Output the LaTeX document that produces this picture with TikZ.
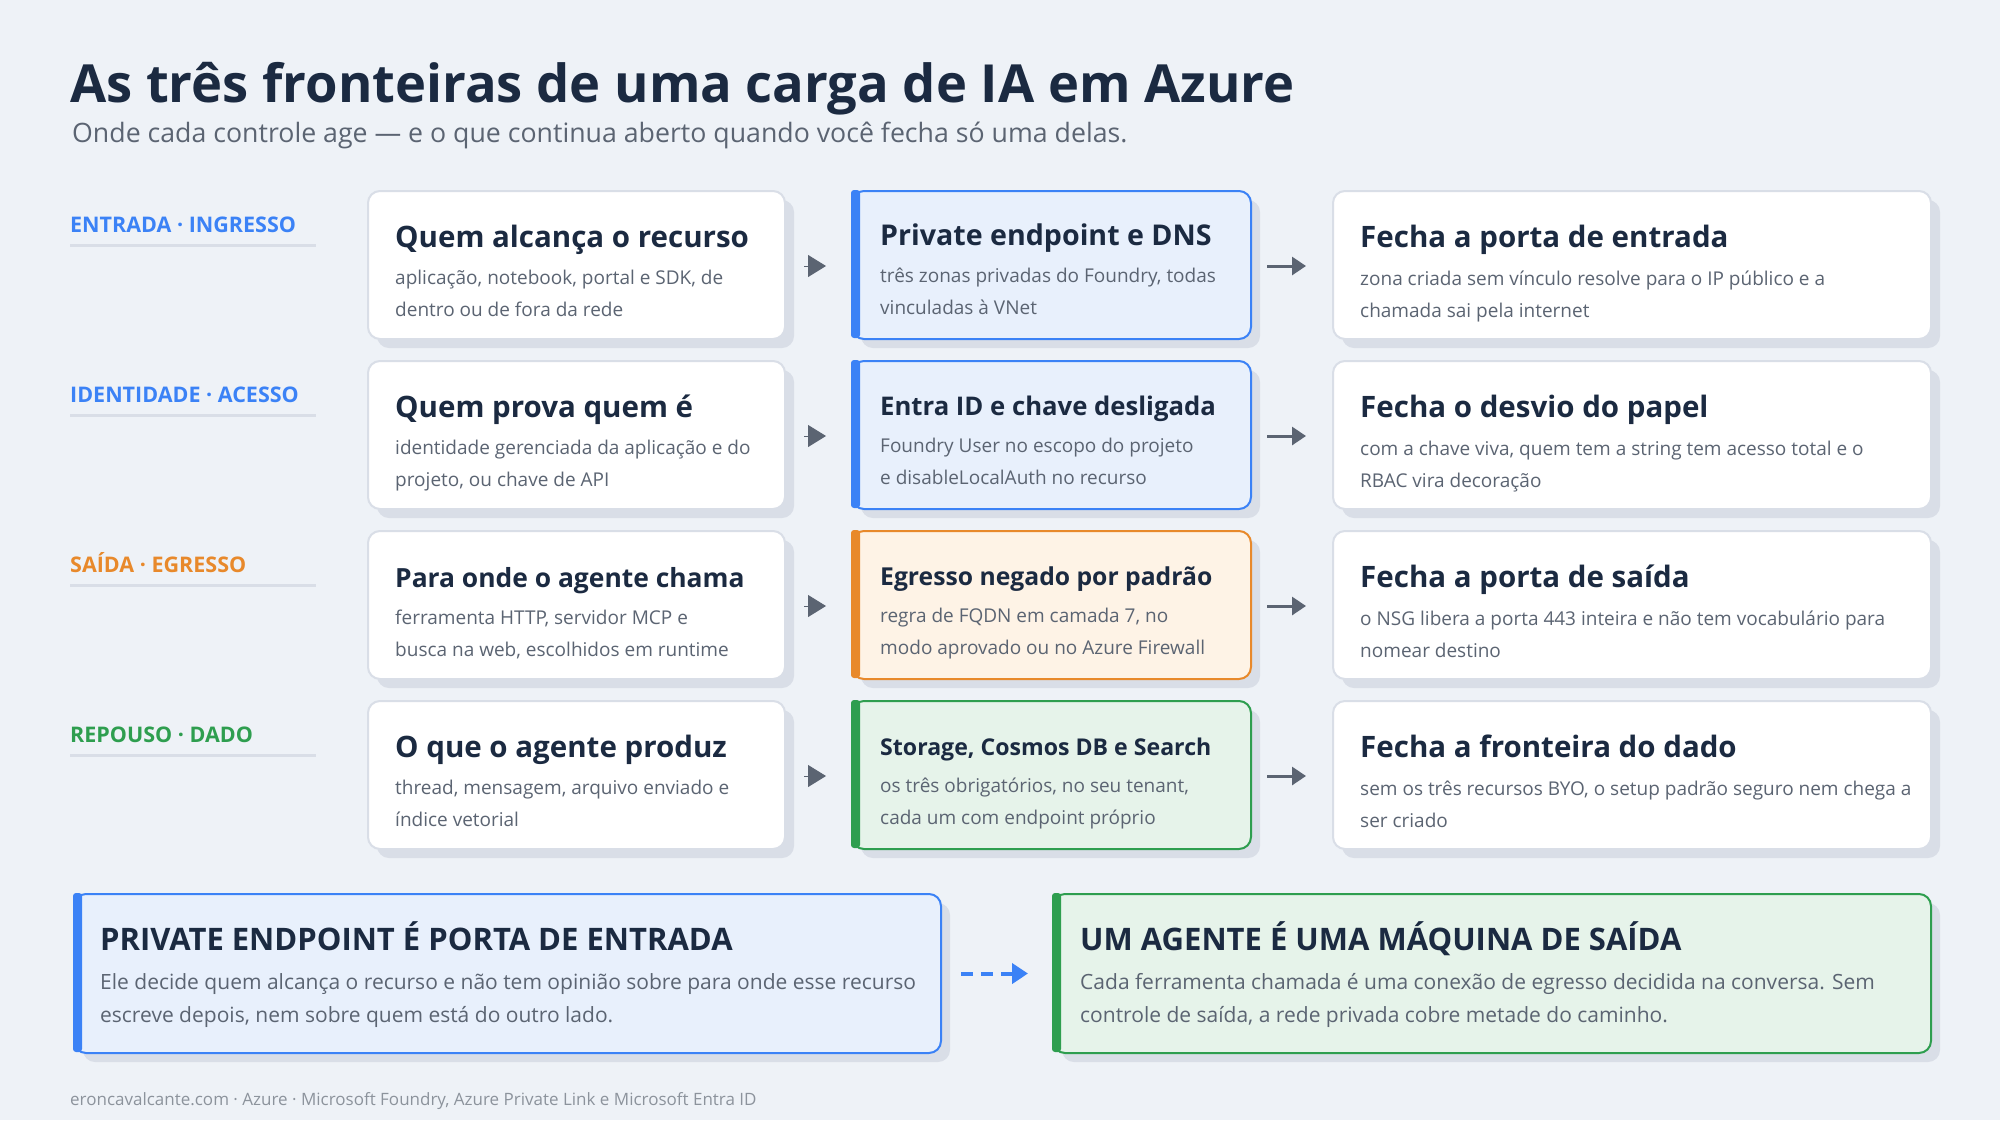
\documentclass[tikz,border=0pt]{standalone}
\usepackage{fontspec}
\setmainfont{Open Sans}
\usetikzlibrary{arrows.meta,positioning}
\definecolor{bgc}{HTML}{EEF2F7}
\definecolor{ink}{HTML}{1B2A41}
\definecolor{muted}{HTML}{5B6472}
\definecolor{castc}{HTML}{D9DEE7}
\definecolor{blu}{HTML}{3B82F6}
\definecolor{blufill}{HTML}{E8F0FC}
\definecolor{org}{HTML}{E8892B}
\definecolor{orgfill}{HTML}{FEF3E6}
\definecolor{grn}{HTML}{2E9E4F}
\definecolor{grnfill}{HTML}{E6F3EA}
\tikzset{
  card/.style={draw=#1,line width=2pt,rounded corners=12pt,inner sep=0pt},
  cast/.style={fill=castc,rounded corners=12pt},
  head/.style={anchor=base west,inner sep=0pt,font=\bfseries\fontsize{#1}{36}\selectfont,text=ink},
  head/.default=29.5,
  desc/.style={anchor=base west,inner sep=0pt,font=\fontsize{19}{32}\selectfont,text=muted,align=left},
  tag/.style={anchor=base west,inner sep=0pt,font=\bfseries\fontsize{21.5}{24}\selectfont,text=#1},
  hop/.style={-{Triangle[length=14pt,width=18pt]},line width=3pt,draw=muted,color=muted},
}
\begin{document}
\begin{tikzpicture}[x=1pt,y=-1pt]
  \fill[bgc] (0,0) rectangle (2000,1120);
  \useasboundingbox (0,0) rectangle (2000,1120);

  % title
  \node[anchor=base west,inner sep=0pt,font=\bfseries\fontsize{52.5}{60}\selectfont,text=ink] (title) at (70,102) {As três fronteiras de uma carga de IA em Azure};
  \node[anchor=base west,inner sep=0pt,font=\fontsize{26.7}{30}\selectfont,text=muted] (sub) at (72,142) {Onde cada controle age — e o que continua aberto quando você fecha só uma delas.};

  % rows
  \foreach \i/\col/\fil/\lab/\sa/\ha/\da/\sb/\hb/\db/\hc/\dc in {
    0/blu/blufill/{ENTRADA · INGRESSO}/29.5/{Quem alcança o recurso}/{aplicação, notebook, portal e SDK, de\\dentro ou de fora da rede}/28.6/{Private endpoint e DNS}/{três zonas privadas do Foundry, todas\\vinculadas à VNet}/{Fecha a porta de entrada}/{zona criada sem vínculo resolve para o IP público e a\\chamada sai pela internet},
    1/blu/blufill/{IDENTIDADE · ACESSO}/29.5/{Quem prova quem é}/{identidade gerenciada da aplicação e do\\projeto, ou chave de API}/25.7/{Entra ID e chave desligada}/{Foundry User no escopo do projeto\\e disableLocalAuth no recurso}/{Fecha o desvio do papel}/{com a chave viva, quem tem a string tem acesso total e o\\RBAC vira decoração},
    2/org/orgfill/{SAÍDA · EGRESSO}/26.4/{Para onde o agente chama}/{ferramenta HTTP, servidor MCP e\\busca na web, escolhidos em runtime}/24.7/{Egresso negado por padrão}/{regra de FQDN em camada 7, no\\modo aprovado ou no Azure Firewall}/{Fecha a porta de saída}/{o NSG libera a porta 443 inteira e não tem vocabulário para\\nomear destino},
    3/grn/grnfill/{REPOUSO · DADO}/29.5/{O que o agente produz}/{thread, mensagem, arquivo enviado e\\índice vetorial}/23.1/{Storage, Cosmos DB e Search}/{os três obrigatórios, no seu tenant,\\cada um com endpoint próprio}/{Fecha a fronteira do dado}/{sem os três recursos BYO, o setup padrão seguro nem chega a\\ser criado}}{
    \pgfmathsetmacro\y{190+170*\i}
    \node[tag=\col] (lab\i) at (70,\y+42) {\lab};
    \draw[castc,line width=3pt] (70,\y+55) -- (316,\y+55);
    % shadows
    \fill[cast] (377,\y+10) rectangle (794,\y+158);
    \fill[cast] (861,\y+10) rectangle (1260,\y+158);
    \fill[cast] (1342,\y+10) rectangle (1940,\y+158);
    % cards
    \node[card=castc,fill=white,anchor=north west,minimum width=417,minimum height=148] (ask\i) at (367,\y) {};
    \node[card=\col,fill=\fil,anchor=north west,minimum width=399,minimum height=148] (ctl\i) at (851,\y) {};
    \node[card=castc,fill=white,anchor=north west,minimum width=598,minimum height=148] (gap\i) at (1332,\y) {};
    \fill[\col,rounded corners=3pt] (851,\y) rectangle (860,\y+148);
    % texts
    \node[head=\sa] at (395,\y+57) {\ha};
    \node[desc] at (395,\y+126) {\da};
    \node[head=\sb] at (880,\y+55) {\hb};
    \node[desc] at (880,\y+124) {\db};
    \node[head] at (1360,\y+57) {\hc};
    \node[desc] at (1360,\y+127) {\dc};
    % arrows
    \draw[hop,line width=1pt,-{Triangle[length=18pt,width=22pt]},shorten <=18pt,shorten >=25pt] ([yshift=-1pt]ask\i.east) -- ([yshift=-1pt]ctl\i.west);
    \draw[hop,shorten <=15pt,shorten >=26pt] ([yshift=-1pt]ctl\i.east) -- ([yshift=-1pt]gap\i.west);
  }

  % bottom summary
  \fill[cast] (83,903) rectangle (950,1062);
  \fill[cast] (1062,903) rectangle (1940,1062);
  \node[card=blu,fill=blufill,anchor=north west,minimum width=867,minimum height=159] (inbox) at (73,893) {};
  \node[card=grn,fill=grnfill,anchor=north west,minimum width=878,minimum height=159] (outbox) at (1052,893) {};
  \fill[blu,rounded corners=3pt] (73,893) rectangle (82,1052);
  \fill[grn,rounded corners=3pt] (1052,893) rectangle (1061,1052);
  \node[head=31] at (100,950) {PRIVATE ENDPOINT É PORTA DE ENTRADA};
  \node[desc,font=\fontsize{21}{33}\selectfont] at (100,1022) {Ele decide quem alcança o recurso e não tem opinião sobre para onde esse recurso\\escreve depois, nem sobre quem está do outro lado.};
  \node[head=31] at (1080,950) {UM AGENTE É UMA MÁQUINA DE SAÍDA};
  \node[desc,font=\fontsize{21}{33}\selectfont] at (1080,1022) {Cada ferramenta chamada é uma conexão de egresso decidida na conversa. Sem\\controle de saída, a rede privada cobre metade do caminho.};
  \draw[blu,line width=4pt,dash pattern=on 12pt off 8pt,-{Triangle[length=16pt,width=20pt]},shorten <=19pt,shorten >=24pt] (inbox.east) -- (outbox.west);

  % footer
  \node[anchor=base west,inner sep=0pt,font=\fontsize{17}{20}\selectfont,text=muted!70] (foot) at (70,1105) {eroncavalcante.com · Azure · Microsoft Foundry, Azure Private Link e Microsoft Entra ID};
\end{tikzpicture}
\end{document}
